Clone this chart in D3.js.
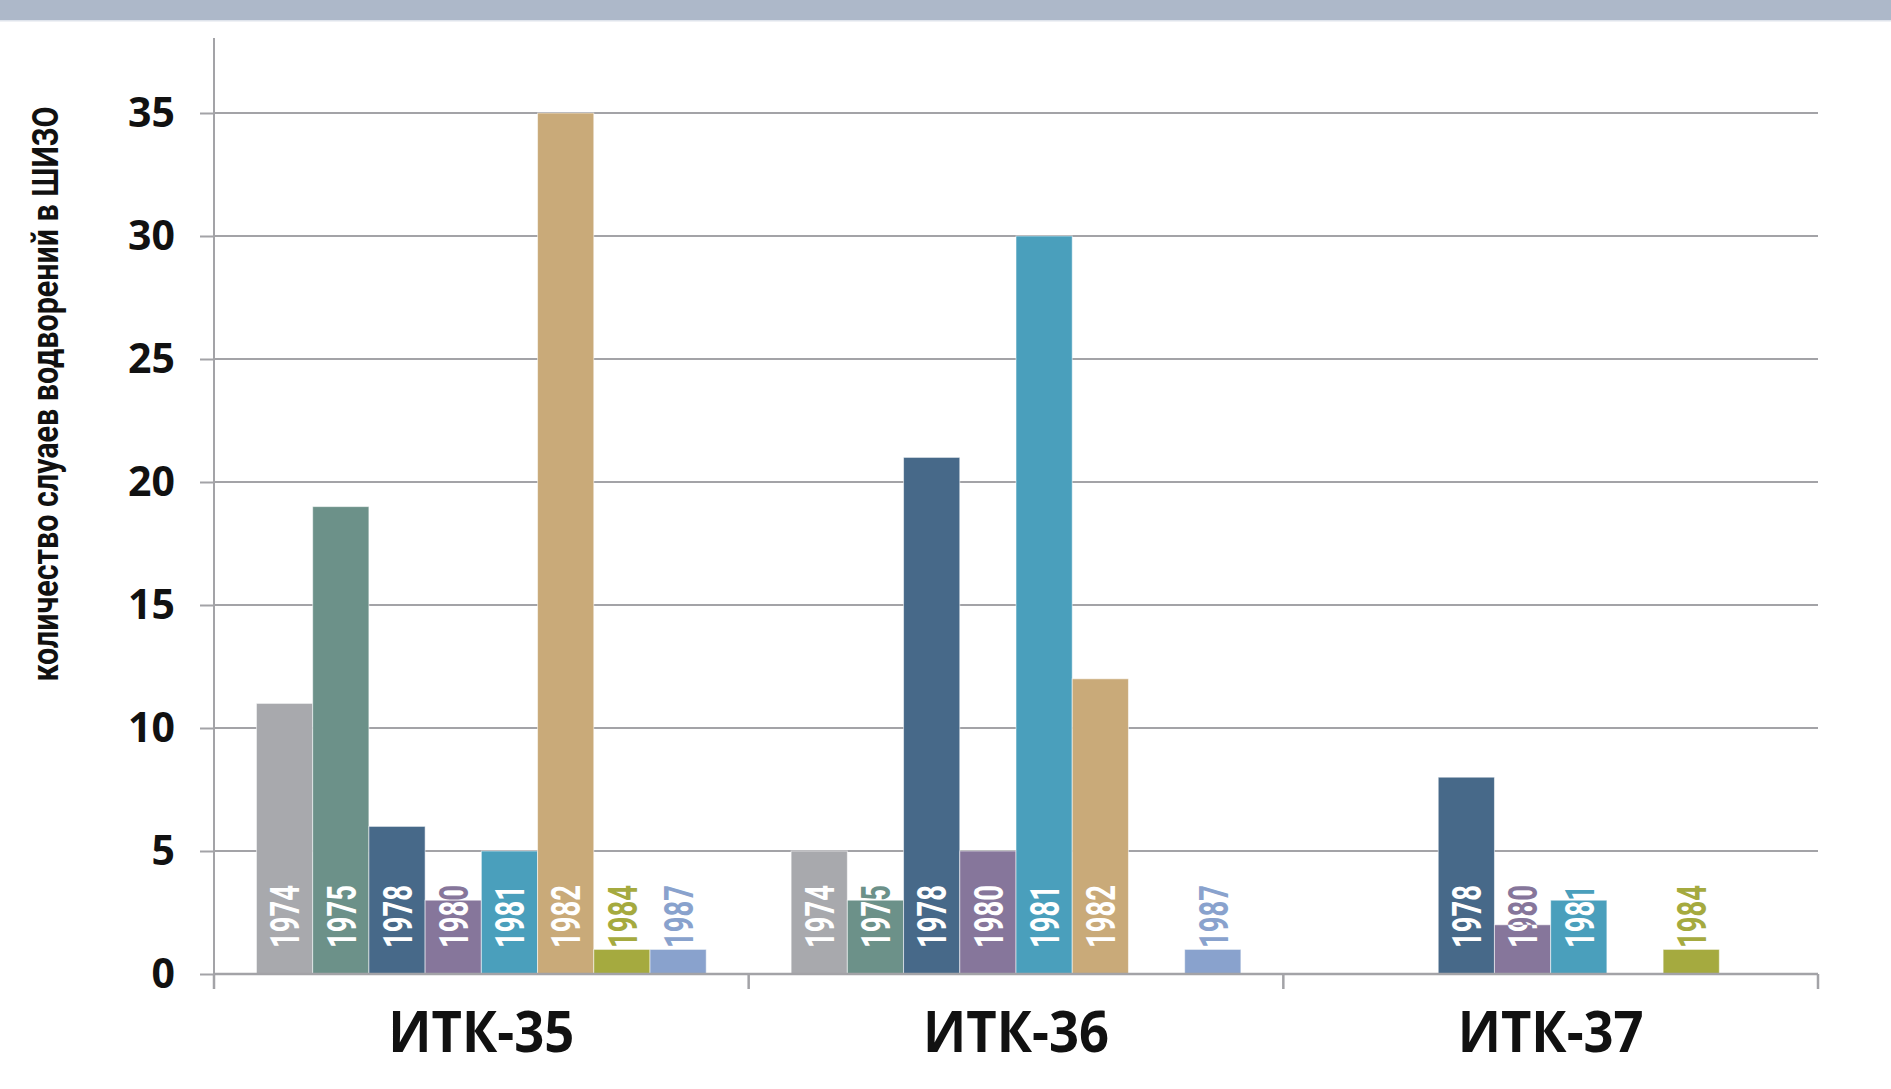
<!DOCTYPE html>
<html>
<head>
<meta charset="utf-8">
<script src="https://cdn.jsdelivr.net/npm/d3@7"></script>
<style>
  html, body { margin: 0; padding: 0; background: #ffffff; }
  svg { display: block; }
</style>
</head>
<body>
<svg id="chart" width="1891" height="1089"></svg>
<script>
// Colonies and years shown in each cluster
const categories = ["ИТК-35", "ИТК-36", "ИТК-37"];
const years = ["1974", "1975", "1978", "1980", "1981", "1982", "1984", "1987"];

// Cases per year for each colony (null = no cases recorded)
const values1974 = [11, 5, null];
const values1975 = [19, 3, null];
const values1978 = [6, 21, 8];
const values1980 = [3, 5, 2];
const values1981 = [5, 30, 3];
const values1982 = [35, 12, null];
const values1984 = [1, null, 1];
const values1987 = [1, 1, null];

const yTicks = [0, 5, 10, 15, 20, 25, 30, 35];
const yTitle = "количество слуаев водворений в ШИЗО";

const seriesValues = [values1974, values1975, values1978, values1980,
                      values1981, values1982, values1984, values1987];
const palette = ["#a8a9ad", "#6c9189", "#476989", "#86769b",
                 "#4a9fbc", "#c9aa79", "#a5aa3f", "#89a2cd"];

(function draw() {
  const svg = d3.select("#chart");
  const W = 1891;
  const plotLeft = 214, plotRight = 1818, plotTop = 113, plotBottom = 974;

  // Header band
  svg.append("rect").attr("x", 0).attr("y", 0).attr("width", W).attr("height", 20)
    .attr("fill", "#adb8c9");
  svg.append("rect").attr("x", 0).attr("y", 20).attr("width", W).attr("height", 1.5)
    .attr("fill", "#dfe4ec");

  const y = d3.scaleLinear().domain([0, 35]).range([plotBottom, plotTop]);
  const x0 = d3.scaleBand().domain(categories).range([plotLeft, plotRight]).padding(0);
  const x1 = d3.scaleBand().domain(years).range([0, x0.bandwidth()])
    .paddingInner(0).paddingOuter(0.755);
  const color = d3.scaleOrdinal().domain(years).range(palette);

  const gridColor = "#a3a3a7";

  // Horizontal gridlines
  svg.append("g").selectAll("line").data(yTicks).join("line")
    .attr("x1", plotLeft).attr("x2", plotRight)
    .attr("y1", d => y(d)).attr("y2", d => y(d))
    .attr("stroke", gridColor).attr("stroke-width", 2);

  // Bars
  const rows = [];
  categories.forEach((c, ci) => {
    years.forEach((yr, si) => {
      const v = seriesValues[si][ci];
      if (v != null) rows.push({ cat: c, year: yr, value: v, id: "b" + ci + "_" + si });
    });
  });

  const defs = svg.append("defs");
  defs.selectAll("clipPath").data(rows).join("clipPath")
    .attr("id", d => d.id)
    .append("rect")
    .attr("x", d => x0(d.cat) + x1(d.year))
    .attr("y", d => y(d.value))
    .attr("width", x1.bandwidth())
    .attr("height", d => y(0) - y(d.value));

  svg.append("g").selectAll("rect").data(rows).join("rect")
    .attr("x", d => x0(d.cat) + x1(d.year))
    .attr("y", d => y(d.value))
    .attr("width", x1.bandwidth())
    .attr("height", d => y(0) - y(d.value))
    .attr("fill", d => color(d.year))
    .attr("stroke", "rgba(255,255,255,0.55)")
    .attr("stroke-width", 1);

  // Year labels: series colour above the bar, white inside it
  const labelBase = plotBottom - 26;
  function yearLabel(sel) {
    sel.attr("transform", d => `translate(${x0(d.cat) + x1(d.year) + x1.bandwidth() / 2},${labelBase}) rotate(-90)`)
      .attr("dy", "0.36em")
      .attr("text-anchor", "start")
      .attr("font-family", "Roboto, 'DejaVu Sans', sans-serif")
      .attr("font-weight", 700)
      .attr("font-size", 41)
      .attr("textLength", 63)
      .attr("lengthAdjust", "spacingAndGlyphs")
      .text(d => d.year);
  }
  svg.append("g").selectAll("text").data(rows).join("text")
    .call(yearLabel)
    .attr("fill", d => color(d.year));
  svg.append("g").selectAll("g").data(rows).join("g")
    .attr("clip-path", d => `url(#${d.id})`)
    .append("text")
    .call(yearLabel)
    .attr("fill", "#ffffff");

  // Zero line, category separators, vertical axis
  svg.append("line").attr("x1", plotLeft).attr("x2", plotRight)
    .attr("y1", y(0)).attr("y2", y(0))
    .attr("stroke", gridColor).attr("stroke-width", 2.5);
  const seps = categories.map(c => x0(c)).concat([plotRight]);
  svg.append("g").selectAll("line").data(seps).join("line")
    .attr("x1", d => d).attr("x2", d => d)
    .attr("y1", y(0)).attr("y2", y(0) + 15)
    .attr("stroke", gridColor).attr("stroke-width", 2.5);

  const yAxis = d3.axisLeft(y).tickValues(yTicks).tickSize(14).tickPadding(25);
  const gy = svg.append("g").attr("transform", `translate(${plotLeft},0)`).call(yAxis);
  gy.select(".domain").remove();
  gy.selectAll(".tick line").attr("stroke", gridColor).attr("stroke-width", 2);
  gy.selectAll(".tick text")
    .attr("font-family", "'Open Sans', sans-serif")
    .attr("font-weight", 700)
    .attr("font-size", 41)
    .attr("fill", "#111111");
  svg.append("line").attr("x1", plotLeft).attr("x2", plotLeft)
    .attr("y1", 38).attr("y2", y(0) + 15)
    .attr("stroke", gridColor).attr("stroke-width", 2);

  // Category labels
  svg.append("g").selectAll("text").data(categories).join("text")
    .attr("x", d => x0(d) + x0.bandwidth() / 2)
    .attr("y", 1052)
    .attr("text-anchor", "middle")
    .attr("font-family", "'Open Sans', sans-serif")
    .attr("font-weight", 700)
    .attr("font-size", 57)
    .attr("textLength", 186)
    .attr("lengthAdjust", "spacingAndGlyphs")
    .attr("fill", "#111111")
    .text(d => d);

  // Vertical axis title
  svg.append("text")
    .attr("transform", `translate(45,394) rotate(-90)`)
    .attr("dy", "0.36em")
    .attr("text-anchor", "middle")
    .attr("font-family", "Roboto, 'DejaVu Sans', sans-serif")
    .attr("font-weight", 700)
    .attr("font-size", 36)
    .attr("textLength", 575)
    .attr("lengthAdjust", "spacingAndGlyphs")
    .attr("fill", "#111111")
    .text(yTitle);
})();
</script>
</body>
</html>
